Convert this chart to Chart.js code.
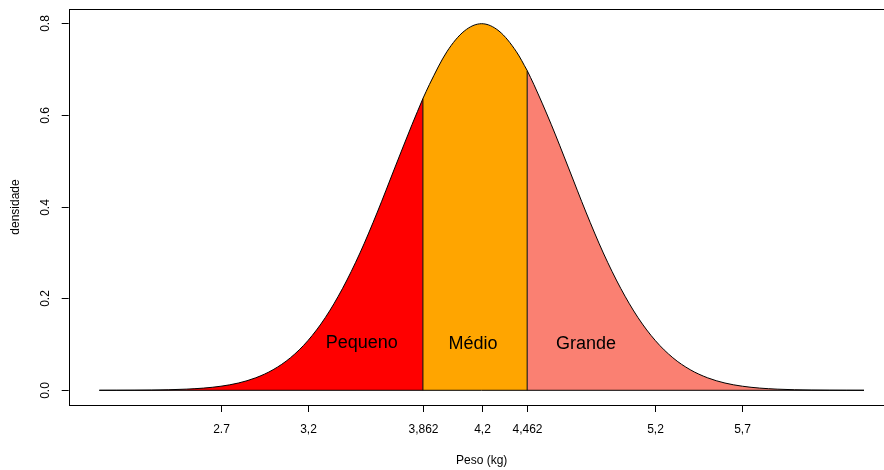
<!DOCTYPE html>
<html>
<head>
<meta charset="utf-8">
<script src="https://cdn.jsdelivr.net/npm/chart.js@4.4.1/dist/chart.umd.min.js"></script>
<style>
  html, body { margin: 0; padding: 0; background: #fff; overflow: hidden; }
  .chart-container { position: relative; width: 910px; height: 470px; }
</style>
</head>
<body>
<div class="chart-container">
  <canvas id="chart" width="910" height="470"></canvas>
</div>
<script>
// peso (kg) e densidade
const pesoX = [2.0, 2.1, 2.2, 2.3, 2.4, 2.5, 2.6, 2.7, 2.8, 2.9, 3.0, 3.1, 3.2, 3.3, 3.4, 3.5, 3.6, 3.7, 3.8,
  3.9, 4.0, 4.1, 4.2, 4.3, 4.4, 4.5, 4.6, 4.7, 4.8, 4.9, 5.0, 5.1, 5.2, 5.3, 5.4, 5.5, 5.6, 5.7, 5.8,
  5.9, 6.0, 6.1, 6.2, 6.3, 6.4];
const densidade = [0.00005, 0.00012, 0.00027, 0.00058, 0.0012, 0.0025, 0.0048, 0.0089, 0.0158, 0.0272, 0.0448,
  0.0709, 0.108, 0.158, 0.222, 0.299, 0.388, 0.484, 0.579,
  0.666, 0.737, 0.782, 0.798, 0.782, 0.737, 0.666, 0.579, 0.484, 0.388, 0.299, 0.222, 0.158, 0.108,
  0.0709, 0.0448, 0.0272, 0.0158, 0.0089, 0.0048, 0.0025, 0.0012, 0.00058, 0.00027, 0.00012, 0.00005];

const cortes = [3.862, 4.462];
const densCortes = [0.635, 0.696];

const categorias = ['Pequeno', 'Médio', 'Grande'];
const coresCategorias = ['#FF0000', '#FFA500', '#FA8072'];
const rotuloX = [3.51, 4.15, 4.80];
const rotuloY = [0.103, 0.1, 0.1];

const xTicks = [2.7, 3.2, 3.862, 4.2, 4.462, 5.2, 5.7];
const xTickLabels = ['2.7', '3,2', '3,862', '4,2', '4,462', '5,2', '5,7'];
const yTicks = [0, 0.2, 0.4, 0.6, 0.8];
const yTickLabels = ['0.0', '0.2', '0.4', '0.6', '0.8'];

// monta os três trechos da curva
function trecho(min, max, pontosIni, pontosFim) {
  const pts = [...pontosIni];
  pesoX.forEach((x, i) => {
    if (x > min && x < max) pts.push({ x: x, y: densidade[i] });
  });
  return pts.concat(pontosFim);
}

const corte1 = { x: cortes[0], y: densCortes[0] };
const corte2 = { x: cortes[1], y: densCortes[1] };
const trechos = [
  trecho(-Infinity, cortes[0], [], [corte1]),
  trecho(cortes[0], cortes[1], [corte1], [corte2]),
  trecho(cortes[1], Infinity, [corte2], []),
];

const datasets = trechos.map((pts, i) => ({
  label: categorias[i],
  data: pts,
  fill: 'origin',
  backgroundColor: coresCategorias[i],
  borderColor: '#000',
  borderWidth: 1,
  pointRadius: 0,
  cubicInterpolationMode: 'monotone',
  order: 1,
}));

// linhas verticais nos cortes e linha de base (desenhadas por cima)
cortes.forEach((c, i) => {
  datasets.push({
    data: [{ x: c, y: 0 }, { x: c, y: densCortes[i] }],
    borderColor: '#000', borderWidth: 1, pointRadius: 0, fill: false, order: 0,
  });
});
datasets.push({
  data: [{ x: pesoX[0], y: 0 }, { x: pesoX[pesoX.length - 1], y: 0 }],
  borderColor: '#000', borderWidth: 1, pointRadius: 0, fill: false, order: 0,
});

const FONT = '"Liberation Sans", Arial, sans-serif';

const eixosR = {
  id: 'eixosR',
  afterDraw(chart) {
    const ctx = chart.ctx;
    const a = chart.chartArea;
    const xs = chart.scales.x;
    const ys = chart.scales.y;
    ctx.save();
    ctx.strokeStyle = '#000';
    ctx.lineWidth = 1;
    ctx.strokeRect(Math.round(a.left) + 0.5, Math.round(a.top) + 0.5,
      Math.round(a.right - a.left), Math.round(a.bottom - a.top));

    ctx.fillStyle = '#000';
    ctx.font = '12px ' + FONT;
    // eixo x
    ctx.textAlign = 'center';
    ctx.textBaseline = 'middle';
    xTicks.forEach((v, i) => {
      const px = Math.round(xs.getPixelForValue(v)) + 0.5;
      ctx.beginPath();
      ctx.moveTo(px, a.bottom);
      ctx.lineTo(px, a.bottom + 7);
      ctx.stroke();
      ctx.fillText(xTickLabels[i], px, a.bottom + 25);
    });
    ctx.fillText('Peso (kg)', (a.left + a.right) / 2, a.bottom + 56);

    // eixo y
    yTicks.forEach((v, i) => {
      const py = Math.round(ys.getPixelForValue(v)) + 0.5;
      ctx.beginPath();
      ctx.moveTo(a.left, py);
      ctx.lineTo(a.left - 7, py);
      ctx.stroke();
      ctx.save();
      ctx.translate(a.left - 23, py);
      ctx.rotate(-Math.PI / 2);
      ctx.fillText(yTickLabels[i], 0, 0);
      ctx.restore();
    });
    ctx.save();
    ctx.translate(16, (a.top + a.bottom) / 2);
    ctx.rotate(-Math.PI / 2);
    ctx.fillText('densidade', 0, 0);
    ctx.restore();

    // rótulos das categorias
    ctx.font = '18px ' + FONT;
    categorias.forEach((c, i) => {
      ctx.fillText(c, xs.getPixelForValue(rotuloX[i]), ys.getPixelForValue(rotuloY[i]));
    });
    ctx.restore();
  },
};

new Chart(document.getElementById('chart'), {
  type: 'line',
  data: { datasets: datasets },
  options: {
    responsive: false,
    animation: false,
    layout: { padding: { left: 68.7, top: 9, right: 15.4, bottom: 65 } },
    plugins: { legend: { display: false }, tooltip: { enabled: false } },
    scales: {
      x: { type: 'linear', display: false, min: 1.824, max: 6.576 },
      y: { type: 'linear', display: false, min: -0.032, max: 0.830 },
    },
  },
  plugins: [eixosR],
});
</script>
</body>
</html>
